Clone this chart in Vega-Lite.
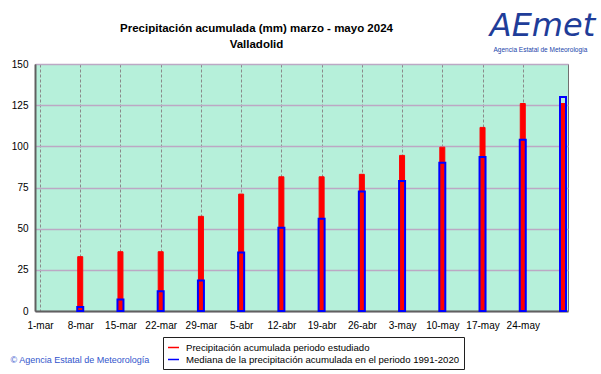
{
  "$schema": "https://vega.github.io/schema/vega-lite/v6.json",
  "autosize": "none",
  "width": 533,
  "height": 247,
  "padding": {"left": 35, "top": 64, "right": 33, "bottom": 63},
  "background": "white",
  "title": {
    "text": ["Precipitación acumulada (mm) marzo - mayo 2024", "Valladolid"],
    "font": "Liberation Sans",
    "fontSize": 11.5,
    "fontWeight": "bold",
    "color": "black",
    "anchor": "middle",
    "frame": "group",
    "dx": -45,
    "dy": 55,
    "offset": 14,
    "lineHeight": 16
  },
  "data": {
    "values": [
      {"fecha": "2024-03-08", "serie": "Precipitación acumulada periodo estudiado", "valor": 33},
      {"fecha": "2024-03-15", "serie": "Precipitación acumulada periodo estudiado", "valor": 36},
      {"fecha": "2024-03-22", "serie": "Precipitación acumulada periodo estudiado", "valor": 36},
      {"fecha": "2024-03-29", "serie": "Precipitación acumulada periodo estudiado", "valor": 57.5},
      {"fecha": "2024-04-05", "serie": "Precipitación acumulada periodo estudiado", "valor": 71},
      {"fecha": "2024-04-12", "serie": "Precipitación acumulada periodo estudiado", "valor": 81.5},
      {"fecha": "2024-04-19", "serie": "Precipitación acumulada periodo estudiado", "valor": 81.5},
      {"fecha": "2024-04-26", "serie": "Precipitación acumulada periodo estudiado", "valor": 83},
      {"fecha": "2024-05-03", "serie": "Precipitación acumulada periodo estudiado", "valor": 94.5},
      {"fecha": "2024-05-10", "serie": "Precipitación acumulada periodo estudiado", "valor": 99.5},
      {"fecha": "2024-05-17", "serie": "Precipitación acumulada periodo estudiado", "valor": 111.5},
      {"fecha": "2024-05-24", "serie": "Precipitación acumulada periodo estudiado", "valor": 126},
      {"fecha": "2024-05-31", "serie": "Precipitación acumulada periodo estudiado", "valor": 126},
      {"fecha": "2024-03-08", "serie": "Mediana de la precipitación acumulada en el periodo 1991-2020", "valor": 2.5},
      {"fecha": "2024-03-15", "serie": "Mediana de la precipitación acumulada en el periodo 1991-2020", "valor": 7},
      {"fecha": "2024-03-22", "serie": "Mediana de la precipitación acumulada en el periodo 1991-2020", "valor": 12},
      {"fecha": "2024-03-29", "serie": "Mediana de la precipitación acumulada en el periodo 1991-2020", "valor": 18.5},
      {"fecha": "2024-04-05", "serie": "Mediana de la precipitación acumulada en el periodo 1991-2020", "valor": 35.5},
      {"fecha": "2024-04-12", "serie": "Mediana de la precipitación acumulada en el periodo 1991-2020", "valor": 50.5},
      {"fecha": "2024-04-19", "serie": "Mediana de la precipitación acumulada en el periodo 1991-2020", "valor": 56},
      {"fecha": "2024-04-26", "serie": "Mediana de la precipitación acumulada en el periodo 1991-2020", "valor": 72.5},
      {"fecha": "2024-05-03", "serie": "Mediana de la precipitación acumulada en el periodo 1991-2020", "valor": 79},
      {"fecha": "2024-05-10", "serie": "Mediana de la precipitación acumulada en el periodo 1991-2020", "valor": 90},
      {"fecha": "2024-05-17", "serie": "Mediana de la precipitación acumulada en el periodo 1991-2020", "valor": 93.5},
      {"fecha": "2024-05-24", "serie": "Mediana de la precipitación acumulada en el periodo 1991-2020", "valor": 104},
      {"fecha": "2024-05-31", "serie": "Mediana de la precipitación acumulada en el periodo 1991-2020", "valor": 130}
    ]
  },
  "layer": [
    {
      "transform": [{"filter": "datum.serie == 'Precipitación acumulada periodo estudiado'"}],
      "mark": {"type": "bar", "size": 5, "fill": "#ff0000", "strokeWidth": 1, "clip": false},
      "encoding": {
        "x": {
          "field": "fecha", "type": "temporal",
          "scale": {"type": "utc", "nice": false, "domain": [{"year": 2024, "month": 3, "date": 1, "utc": true}, {"year": 2024, "month": 5, "date": 31, "utc": true}]},
          "axis": {
            "values": [
              {"year": 2024, "month": 3, "date": 1, "utc": true},
              {"year": 2024, "month": 3, "date": 8, "utc": true},
              {"year": 2024, "month": 3, "date": 15, "utc": true},
              {"year": 2024, "month": 3, "date": 22, "utc": true},
              {"year": 2024, "month": 3, "date": 29, "utc": true},
              {"year": 2024, "month": 4, "date": 5, "utc": true},
              {"year": 2024, "month": 4, "date": 12, "utc": true},
              {"year": 2024, "month": 4, "date": 19, "utc": true},
              {"year": 2024, "month": 4, "date": 26, "utc": true},
              {"year": 2024, "month": 5, "date": 3, "utc": true},
              {"year": 2024, "month": 5, "date": 10, "utc": true},
              {"year": 2024, "month": 5, "date": 17, "utc": true},
              {"year": 2024, "month": 5, "date": 24, "utc": true}
            ],
            "labelExpr": "utcdate(datum.value) + '-' + ['ene','feb','mar','abr','may','jun'][utcmonth(datum.value)]",
            "labelFont": "Liberation Sans",
            "labelFontSize": 10,
            "labelColor": "black",
            "labelPadding": 9,
            "labelFlush": false,
            "labelOverlap": false,
            "ticks": false,
            "domainColor": "#606060",
            "domainWidth": 2,
            "grid": true,
            "gridColor": "#8a8a8a",
            "gridDash": [3, 2],
            "gridWidth": 1,
            "title": "© Agencia Estatal de Meteorología",
            "titleFont": "Liberation Sans",
            "titleFontSize": 9,
            "titleFontWeight": "normal",
            "titleColor": "#3355cc",
            "titleAlign": "left",
            "titleBaseline": "middle",
            "titleX": -25,
            "titleY": 48
          }
        },
        "y": {
          "field": "valor", "type": "quantitative",
          "scale": {"domain": [0, 150], "nice": false},
          "axis": {
            "values": [0, 25, 50, 75, 100, 125, 150],
            "labelFont": "Liberation Sans",
            "labelFontSize": 10,
            "labelColor": "black",
            "labelPadding": 7,
            "ticks": false,
            "domainColor": "#606060",
            "domainWidth": 2,
            "grid": true,
            "gridColor": "#bca8c4",
            "gridWidth": 1.5,
            "title": "AEmet",
            "titleFont": "DejaVu Sans",
            "titleFontSize": 32,
            "titleFontWeight": "normal",
            "titleFontStyle": "italic",
            "titleColor": "#1f3d99",
            "titleAngle": 0,
            "titleAlign": "center",
            "titleBaseline": "middle",
            "titleX": 507,
            "titleY": -39
          }
        },
        "stroke": {
          "field": "serie", "type": "nominal",
          "scale": {
            "domain": ["Precipitación acumulada periodo estudiado", "Mediana de la precipitación acumulada en el periodo 1991-2020"],
            "range": ["#ff0000", "#0000ff"]
          },
          "legend": {
            "title": null,
            "orient": "none",
            "legendX": 128,
            "legendY": 273,
            "direction": "vertical",
            "symbolType": "stroke",
            "symbolSize": 121,
            "symbolStrokeWidth": 1.5,
            "labelFont": "Liberation Sans",
            "labelFontSize": 9.6,
            "labelColor": "black",
            "labelOffset": 6,
            "labelLimit": 400,
            "rowPadding": 0,
            "padding": 4,
            "strokeColor": "#202020",
            "fillColor": "white"
          }
        }
      }
    },
    {
      "transform": [{"filter": "datum.serie == 'Mediana de la precipitación acumulada en el periodo 1991-2020'"}],
      "mark": {"type": "bar", "size": 6, "fill": null, "fillOpacity": 0, "strokeWidth": 2, "clip": false},
      "encoding": {
        "x": {
          "field": "fecha", "type": "temporal",
          "scale": {"type": "utc", "nice": false, "domain": [{"year": 2024, "month": 3, "date": 1, "utc": true}, {"year": 2024, "month": 5, "date": 31, "utc": true}]}
        },
        "y": {
          "field": "valor", "type": "quantitative",
          "scale": {"domain": [0, 150], "nice": false},
          "axis": {
            "orient": "right",
            "labels": false,
            "ticks": false,
            "domain": false,
            "grid": false,
            "title": "Agencia Estatal de Meteorología",
            "titleFont": "Liberation Sans",
            "titleFontSize": 6.5,
            "titleFontWeight": "normal",
            "titleColor": "#2244aa",
            "titleAngle": 0,
            "titleAlign": "center",
            "titleBaseline": "middle",
            "titleX": -28,
            "titleY": -15
          }
        },
        "stroke": {"field": "serie", "type": "nominal"}
      }
    }
  ],
  "resolve": {"axis": {"y": "independent"}},
  "config": {
    "view": {"fill": "#b6f0da", "stroke": "#707070", "strokeWidth": 1},
    "font": "Liberation Sans"
  }
}
